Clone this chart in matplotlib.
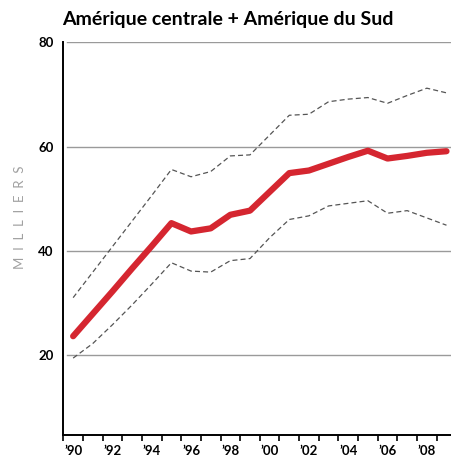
import matplotlib.pyplot as plt
import numpy as np

years = list(range(1990, 2010))
central = [23.6, 27.9, 32.2, 36.6, 40.9, 45.3, 43.7, 44.3, 46.9, 47.7,
           51.3, 54.9, 55.4, 56.7, 58.0, 59.2, 57.7, 58.2, 58.8, 59.1]
upper = [31.0, 35.9, 40.8, 45.7, 50.6, 55.6, 54.2, 55.2, 58.2, 58.4,
         62.2, 66.0, 66.2, 68.6, 69.1, 69.4, 68.3, 69.8, 71.2, 70.3]
lower = [19.4, 22.2, 25.8, 29.6, 33.6, 37.7, 36.1, 35.9, 38.1, 38.5,
         42.5, 46.0, 46.7, 48.6, 49.1, 49.6, 47.2, 47.7, 46.3, 44.9]
yticks = [20, 40, 60, 80]

plt.rcParams['font.family'] = ['Lato', 'DejaVu Sans']

fig = plt.figure(figsize=(4.51, 4.58), dpi=100)
ax = fig.add_axes([0.1404, 0.0502, 0.8596, 0.8574])

x = np.array(years) + 0.5
for y in yticks:
    ax.axhline(y, xmin=0.01, color='#9a9a9a', lw=1.0, zorder=1)
ax.plot(x, upper, color='#555555', lw=0.9, ls=(0, (4, 2.5)), zorder=2)
ax.plot(x, lower, color='#555555', lw=0.9, ls=(0, (4, 2.5)), zorder=2)
ax.plot(x, central, color='#d52630', lw=4.5, solid_capstyle='round',
        solid_joinstyle='round', zorder=3)

ax.set_xlim(1990, 2009.73)
ax.set_ylim(4.64, 80)

ax.set_xticks(range(1990, 2010))
ax.set_xticklabels([])
ax.set_xticks([yr + 0.5 for yr in years[::2]], minor=True)
ax.set_xticklabels(['\u2019' + str(yr)[2:] for yr in years[::2]], minor=True)
ax.tick_params(axis='x', which='major', length=4.5, width=1.2, direction='out')
ax.tick_params(axis='x', which='minor', length=0, pad=7, labelsize=9.5)

ax.set_yticks(yticks)
ax.tick_params(axis='y', length=0, pad=7, labelsize=9.5)
for lab in ax.get_yticklabels() + ax.get_xticklabels(minor=True):
    lab.set_fontweight('bold')

for s in ['top', 'right']:
    ax.spines[s].set_visible(False)
ax.spines['left'].set_linewidth(1.4)
ax.spines['bottom'].set_linewidth(1.4)

fig.text(0.1375, 0.945, 'Am\u00e9rique centrale + Am\u00e9rique du Sud',
         fontsize=14, fontweight='bold', ha='left', va='baseline')
fig.text(0.044, 0.526, 'M  I  L  L  I  E  R  S', rotation=90, color='#a0a0a0',
         fontsize=9.5, ha='center', va='center')

fig.savefig('out.png', dpi=100)
